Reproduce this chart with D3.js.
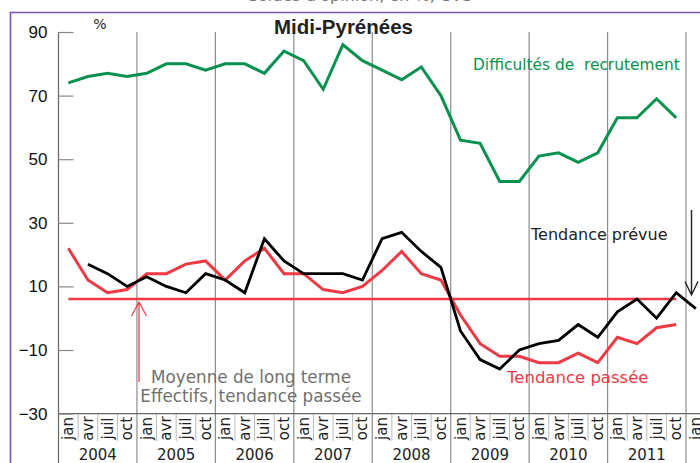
<!DOCTYPE html>
<html>
<head>
<meta charset="utf-8">
<script src="https://cdn.jsdelivr.net/npm/d3@7"></script>
<style>
  body { margin: 0; background: #fff; }
  svg { display: block; }
</style>
</head>
<body>
<script>
var years = ["2004", "2005", "2006", "2007", "2008", "2009", "2010", "2011"];
var quarterNames = ["jan", "avr", "juil", "oct"];
var yTicks = [90, 70, 50, 30, 10, -10, -30];

// difficultés de recrutement, jan 2004 .. oct 2011
var recrutement = [74, 76, 77, 76, 77, 80, 80, 78, 80, 80, 77, 84, 81, 72, 86, 81,
                   78, 75, 79, 70, 56, 55, 43, 43, 51, 52, 49, 52, 63, 63, 69, 63];
// effectifs, tendance passée, jan 2004 .. oct 2011
var passee = [22, 12, 8, 9, 14, 14, 17, 18, 12, 18, 22, 14, 14, 9, 8, 10,
              15, 21, 14, 12, 1, -8, -12, -12, -14, -14, -11, -14, -6, -8, -3, -2];
// effectifs, tendance prévue, jan 2004 .. jan 2012
var prevue = [null, 17, 14, 10, 13, 10, 8, 14, 12, 8, 25, 18, 14, 14, 14, 12,
              25, 27, 21, 16, -4, -13, -16, -10, -8, -7, -2, -6, 2, 6, 0, 8, 3];
var moyenne = 6;

var width = 700,
    height = 463,
    plotTop = 32,
    plotBottom = 413.6,
    left = 58.5,
    step = 19.61,
    nQuarters = years.length * 4 + 1;

var svg = d3.select("body").append("svg")
    .attr("width", width)
    .attr("height", height);

var x = d3.scaleLinear().domain([0, nQuarters]).range([left, left + step * nQuarters]);
var y = d3.scaleLinear().domain([-30, 90]).range([plotBottom, plotTop]);
function cx(i) { return x(i + 0.5); }

// cut off subtitle and purple frame
svg.append("text")
    .attr("x", 360).attr("y", 1)
    .attr("text-anchor", "middle")
    .style("font", "16px 'DejaVu Sans'")
    .style("fill", "#777")
    .text("Soldes d'opinion, en %, CVS");

svg.append("path")
    .attr("d", "M10.5," + height + "V12.5H" + width)
    .style("fill", "none")
    .style("stroke", "#7b52b4")
    .style("stroke-width", 1.6);

// vertical year lines
svg.append("g").selectAll("line")
    .data(d3.range(0, nQuarters, 4))
    .join("line")
    .attr("x1", d => x(d)).attr("x2", d => x(d))
    .attr("y1", plotTop).attr("y2", height)
    .style("stroke", d => d === 0 ? "#666" : "#8c8c8c")
    .style("stroke-width", 1.2);

// quarter separators in the label area
svg.append("g").selectAll("line")
    .data(d3.range(1, nQuarters + 1).filter(d => d % 4 !== 0))
    .join("line")
    .attr("x1", d => x(d)).attr("x2", d => x(d))
    .attr("y1", plotBottom).attr("y2", 441)
    .style("stroke", "#bbb")
    .style("stroke-width", 1);

svg.append("line")
    .attr("x1", x(0)).attr("x2", width)
    .attr("y1", plotBottom).attr("y2", plotBottom)
    .style("stroke", "#666")
    .style("stroke-width", 1.2);

// y axis, ticks inside
var yAxis = d3.axisLeft(y).tickValues(yTicks).tickSizeInner(-15).tickSizeOuter(0).tickPadding(11);
var yg = svg.append("g")
    .attr("transform", "translate(" + x(0) + ",0)")
    .call(yAxis);
yg.select(".domain").remove();
yg.selectAll(".tick line").style("stroke", "#888").style("stroke-width", 1.2);
yg.selectAll(".tick text")
    .style("font-family", "'Liberation Sans', Arial, sans-serif")
    .style("font-size", "17px")
    .style("fill", "#111");

svg.append("text")
    .attr("x", 100).attr("y", 29)
    .attr("text-anchor", "middle")
    .style("font", "14px 'DejaVu Sans'")
    .style("fill", "#222")
    .text("%");

// quarter + year labels
svg.append("g").selectAll("text")
    .data(d3.range(nQuarters))
    .join("text")
    .attr("transform", d => "translate(" + cx(d) + ",428.5) rotate(-90)")
    .attr("text-anchor", "middle")
    .attr("dominant-baseline", "central")
    .style("font", "15px 'DejaVu Sans'")
    .style("fill", "#222")
    .text(d => quarterNames[d % 4]);

svg.append("g").selectAll("text")
    .data(years)
    .join("text")
    .attr("x", (d, i) => x(i * 4 + 2))
    .attr("y", 460)
    .attr("text-anchor", "middle")
    .style("font", "15px 'DejaVu Sans'")
    .style("fill", "#222")
    .text(d => d);

// mean line
svg.append("line")
    .attr("x1", cx(0)).attr("x2", cx(passee.length - 1))
    .attr("y1", y(moyenne)).attr("y2", y(moyenne))
    .style("stroke", "#ef3a45")
    .style("stroke-width", 2.5);

var line = d3.line()
    .defined(d => d != null)
    .x((d, i) => cx(i))
    .y(d => y(d));

function drawSeries(values, color, w) {
    svg.append("path")
        .datum(values)
        .attr("d", line)
        .style("fill", "none")
        .style("stroke", color)
        .style("stroke-width", w)
        .style("stroke-linejoin", "miter");
}

drawSeries(recrutement, "#0a9150", 3);
drawSeries(passee, "#ef3a45", 3);
drawSeries(prevue, "#000", 2.8);

// title & annotations
svg.append("text")
    .attr("x", 343.5).attr("y", 34)
    .attr("text-anchor", "middle")
    .style("font", "bold 20.5px 'Liberation Sans', Arial, sans-serif")
    .style("fill", "#222")
    .text("Midi-Pyrénées");

svg.append("text")
    .attr("x", 473).attr("y", 70)
    .style("font", "15.4px 'DejaVu Sans'")
    .style("fill", "#0a9150")
    .attr("xml:space", "preserve")
    .text("Difficultés de  recrutement");

svg.append("text")
    .attr("x", 531).attr("y", 240)
    .style("font", "16px 'DejaVu Sans'")
    .style("fill", "#222")
    .text("Tendance prévue");

svg.append("text")
    .attr("x", 507).attr("y", 383)
    .style("font", "16.5px 'DejaVu Sans'")
    .style("fill", "#ef3a45")
    .text("Tendance passée");

var noteLines = ["Moyenne de long terme", "Effectifs, tendance passée"];
svg.append("g").selectAll("text")
    .data(noteLines)
    .join("text")
    .attr("x", 251)
    .attr("y", (d, i) => 383 + i * 18.5)
    .attr("text-anchor", "middle")
    .style("font", "16.8px 'DejaVu Sans'")
    .style("fill", "#707070")
    .text(d => d);

// arrows
svg.append("path")
    .attr("d", "M139,382V302M131.5,316L139,302L146.5,316")
    .style("fill", "none")
    .style("stroke", "#ef3a45")
    .style("stroke-width", 1.2);

svg.append("path")
    .attr("d", "M691.5,210V295M685,281.5L691.5,295L698,281.5")
    .style("fill", "none")
    .style("stroke", "#222")
    .style("stroke-width", 1.4);
</script>
</body>
</html>
